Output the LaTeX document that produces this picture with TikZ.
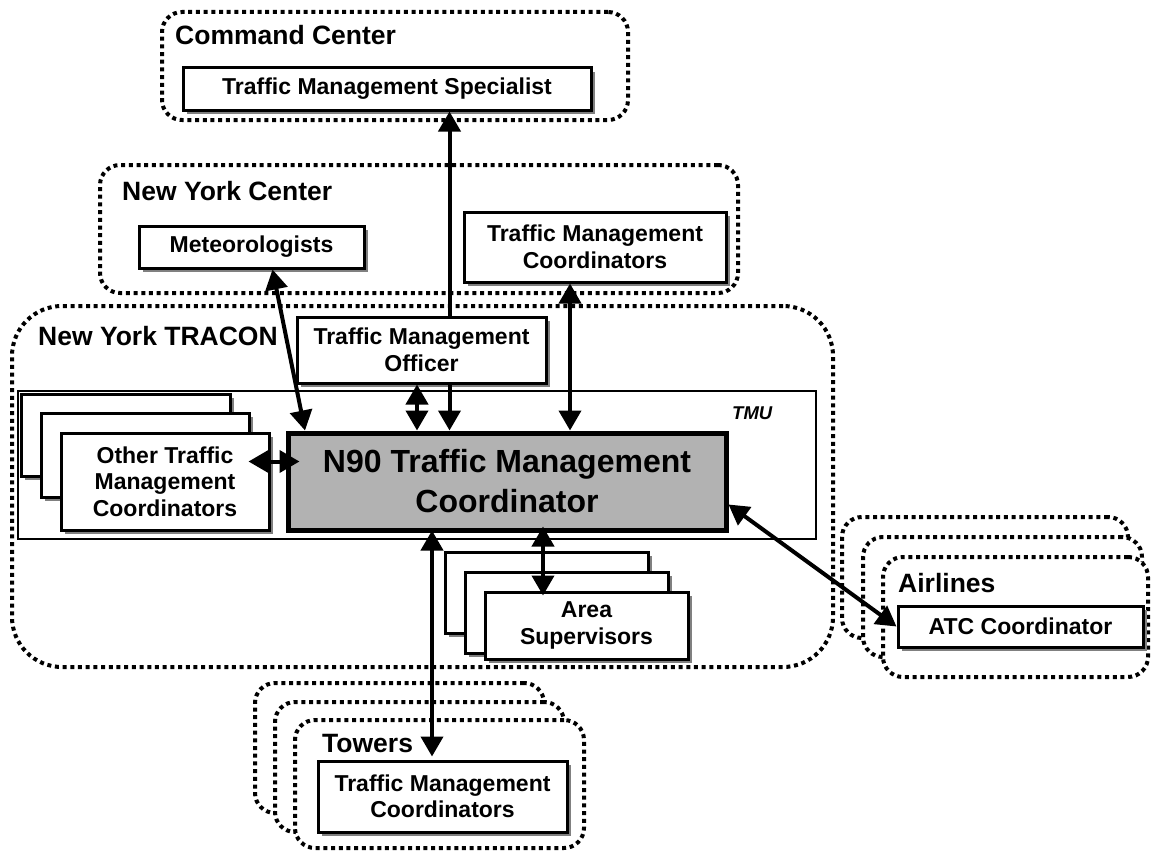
\documentclass[tikz,border=0pt]{standalone}
\usepackage{fontspec}
\setmainfont{Liberation Sans}
\usetikzlibrary{arrows.meta,shadows}

\tikzset{
  boxtext/.style={font=\bfseries\fontsize{23}{26.5}\selectfont, align=center},
  solidbox/.style={draw=black, line width=3pt, fill=white, inner sep=0pt, boxtext,
    drop shadow={shadow xshift=4pt, shadow yshift=-4pt, fill=black!50, opacity=1}},
  groupbox/.style={draw=black, line width=4pt, dash pattern=on 4pt off 3.7pt,
    fill=white, rounded corners=20pt, inner sep=0pt},
  grouptitle/.style={anchor=base west, inner sep=0pt, font=\bfseries\fontsize{26.5}{30}\selectfont},
  link/.style={line width=4pt, {Triangle[length=20pt,width=22pt]}-{Triangle[length=20pt,width=22pt]}},
  onelink/.style={line width=4pt, -{Triangle[length=20pt,width=22pt]}},
}

\begin{document}
\begin{tikzpicture}[x=1pt,y=-1pt]
\useasboundingbox (0,0) rectangle (1151,851);

% ---- organisational frames ----
\node[groupbox, minimum width=466pt, minimum height=108pt] (cc) at (395,66) {};
\node[grouptitle] (cctitle) at (175,45) {Command Center};

\node[groupbox, minimum width=638pt, minimum height=128pt] (nyc) at (419,229) {};
\node[grouptitle] (nyctitle) at (122,200) {New York Center};

\node[groupbox, rounded corners=50pt, minimum width=821pt, minimum height=361pt] (tracon) at (422.5,486.5) {};
\node[grouptitle] (tracontitle) at (38,345) {New York TRACON};

% airlines (stacked)
\node[groupbox, minimum width=286pt, minimum height=121pt] (air1) at (985,577.5) {};
\node[groupbox, minimum width=279pt, minimum height=120pt] (air2) at (1002.5,597) {};
\node[groupbox, minimum width=265pt, minimum height=120pt] (air3) at (1015.5,617) {};
\node[grouptitle] (airtitle) at (898,592) {Airlines};

% towers (stacked)
\node[groupbox, minimum width=289pt, minimum height=130pt] (tow1) at (399.5,748) {};
\node[groupbox, minimum width=289pt, minimum height=130pt] (tow2) at (419.5,767) {};
\node[groupbox, minimum width=289pt, minimum height=128pt] (tow3) at (439.5,784) {};
\node[grouptitle] (towtitle) at (322,752) {Towers};

% ---- traffic management unit ----
\node[draw, line width=1.4pt, inner sep=0pt, minimum width=798pt, minimum height=148pt] (tmu) at (417,465) {};
\node[anchor=base west, inner sep=0pt, font=\bfseries\itshape\fontsize{18.5}{20}\selectfont] (tmulabel) at (732,419) {TMU};

% ---- positions ----
\node[solidbox, minimum width=408pt, minimum height=42pt] (tms) at (387,89) {Traffic Management Specialist};
\node[solidbox, minimum width=225pt, minimum height=42pt] (met) at (251.5,247) {Meteorologists};
\node[solidbox, minimum width=262pt, minimum height=70pt] (nytmc) at (595,247) {Traffic Management\\Coordinators};
\node[solidbox, minimum width=249pt, minimum height=66pt] (tmo) at (421.5,350) {Traffic Management\\Officer};

\node[solidbox, minimum width=209pt, minimum height=82pt] (oth1) at (125.5,435) {};
\node[solidbox, minimum width=208pt, minimum height=84pt] (oth2) at (145,455) {};
\node[solidbox, minimum width=208pt, minimum height=97pt] (oth3) at (165,481.5) {Other Traffic\\Management\\Coordinators};

\node[draw=black, line width=5pt, fill=black!30, inner sep=0pt, minimum width=438pt, minimum height=97pt,
  align=center, font=\bfseries\fontsize{32}{40}\selectfont] (n90) at (507,481.5) {N90 Traffic Management\\Coordinator};

\node[solidbox, minimum width=203pt, minimum height=81pt] (area1) at (546.5,592.5) {};
\node[solidbox, minimum width=203pt, minimum height=81pt] (area2) at (566.5,612.5) {};
\node[solidbox, minimum width=203pt, minimum height=67pt] (area3) at (586.5,625.5) {Area\\Supervisors};

\node[solidbox, minimum width=245pt, minimum height=41pt] (atc) at (1020.5,626.5) {ATC Coordinator};
\node[solidbox, minimum width=249pt, minimum height=71pt] (twtmc) at (442.5,796.5) {Traffic Management\\Coordinators};

% ---- information flows ----
\draw[onelink] ([xshift=28pt]tmo.north) -- ([xshift=28pt]tmo.north |- tms.south);
\draw[link] ([xshift=21pt]met.south) -- ([xshift=-202pt]n90.north);
\draw[link] ([xshift=-25pt]nytmc.south) -- ([xshift=-25pt]nytmc.south |- n90.north);
\draw[link] ([xshift=-4.5pt]tmo.south) -- ([xshift=-4.5pt]tmo.south |- n90.north);
\draw[onelink] ([xshift=28pt]tmo.south) -- ([xshift=28pt]tmo.south |- n90.north);
\draw[link] ([xshift=-22pt,yshift=20pt]oth3.east) -- ([xshift=14pt,yshift=20pt]n90.west);
\draw[link, shorten <=-6pt, shorten >=-5pt] ([xshift=36pt]n90.south) -- ([xshift=36pt]n90.south |- area3.north);
\draw[link, shorten <=-2pt, shorten >=3pt] ([xshift=-75pt]n90.south) -- ([xshift=-75pt]n90.south |- twtmc.north);
\draw[link] ([yshift=-23pt]n90.east) -- (atc.west);
\end{tikzpicture}
\end{document}
